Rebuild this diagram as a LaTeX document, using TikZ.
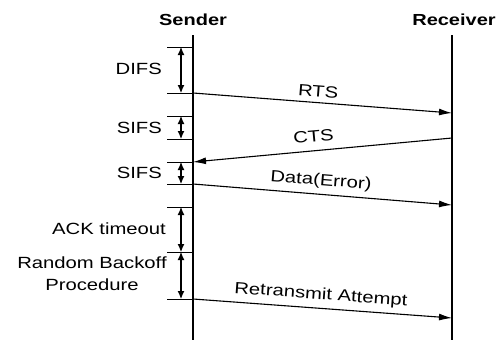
\documentclass[tikz,border=0pt]{standalone}
\usepackage{fontspec}
\setmainfont[FakeStretch=1.25]{Liberation Sans}
\usetikzlibrary{arrows.meta}
\begin{document}
\begin{tikzpicture}[x=1pt,y=-1pt,
  lbl/.style={font=\fontsize{16.2}{19}\selectfont, inner sep=0pt},
  hdr/.style={font=\fontsize{16}{19}\selectfont\bfseries, inner sep=0pt},
  life/.style={line width=1.1pt},
  tick/.style={line width=1pt},
  msg/.style={line width=1.1pt, -{Latex[length=13pt,width=7pt]}},
  span/.style={line width=1.1pt, {Latex[length=8pt,width=7pt]}-{Latex[length=8pt,width=7pt]}},
  mlbl/.style={font=\fontsize{16.2}{19}\selectfont, inner sep=0pt, sloped, above=5pt}]
\useasboundingbox (0,0) rectangle (502,340);
% headers
\node[hdr] (snd) at (193,20) {Sender};
\node[hdr] (rcv) at (454,20) {Receiver};
% lifelines
\coordinate (stop) at (193,35); \coordinate (sbot) at (193,340);
\coordinate (rtop) at (452,35); \coordinate (rbot) at (452,340);
\draw[life] (stop) -- (sbot);
\draw[life] (rtop) -- (rbot);
% time marks on the sender
\foreach \n/\y in {1/47,2/93,3/116,4/139,5/162,6/184,7/207,8/252,9/299}{
  \coordinate (s\n) at (193,\y);
  \coordinate (t\n) at (167,\y);
  \coordinate (a\n) at (181,\y);
  \draw[tick] (t\n) -- (s\n);
}
% interval arrows
\draw[span] (a1) -- (a2);
\draw[span] (a3) -- (a4);
\draw[span] (a5) -- (a6);
\draw[span] (a7) -- (a8);
\draw[span] (a8) -- (a9);
% interval labels
\node[lbl, anchor=east] (difs) at (162,69) {DIFS};
\node[lbl, anchor=east] (sifsa) at (162,128) {SIFS};
\node[lbl, anchor=east] (sifsb) at (162,173) {SIFS};
\node[lbl, anchor=east] (ackto) at (166,229) {ACK timeout};
\node[lbl, align=center] (rbo) at (92,274) {Random Backoff\\[3pt]Procedure};
% receiver points
\coordinate (r1) at (452,113);
\coordinate (r2) at (452,138);
\coordinate (r3) at (452,205);
\coordinate (r4) at (452,318);
% messages
\draw[msg] (s2) -- node[mlbl, pos=0.48] (rts) {RTS} (r1);
\draw[msg] (r2) -- node[mlbl, pos=0.53, above=3pt] (cts) {CTS} (s5);
\draw[msg] (s6) -- node[mlbl, pos=0.49] (data) {Data(Error)} (r3);
\draw[msg] (s9) -- node[mlbl, pos=0.49] (retx) {Retransmit Attempt} (r4);
\end{tikzpicture}
\end{document}
